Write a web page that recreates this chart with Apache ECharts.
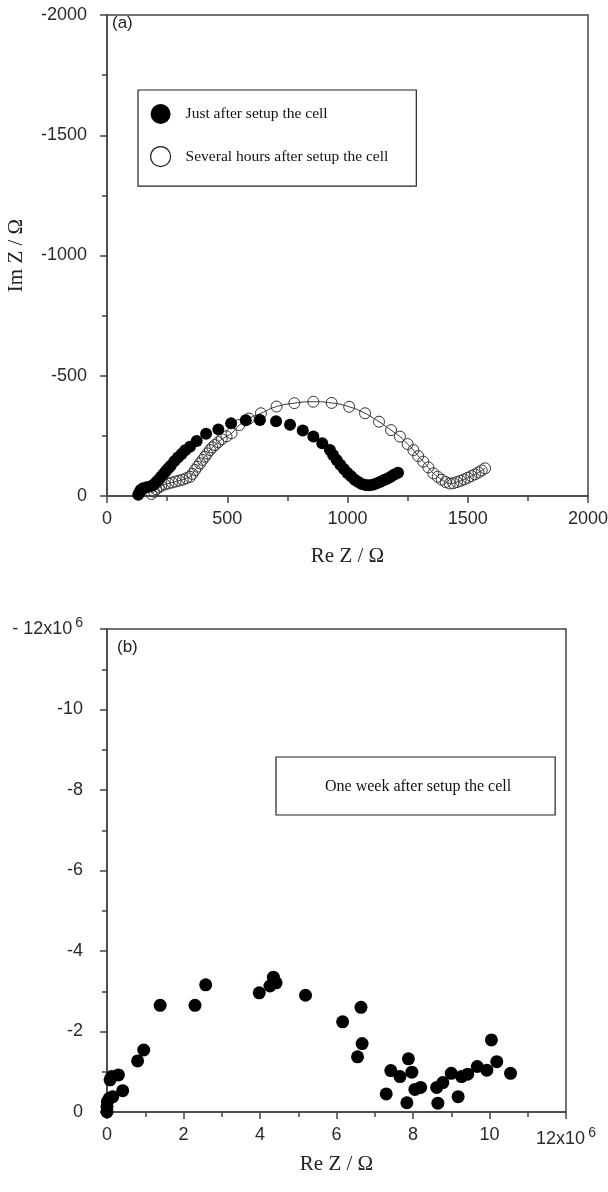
<!DOCTYPE html>
<html>
<head>
<meta charset="utf-8">
<script src="https://cdn.jsdelivr.net/npm/echarts@6/dist/echarts.min.js"></script>
<style>html,body{margin:0;padding:0;background:#fff}#c{width:608px;height:1192px}</style>
</head>
<body>
<div id="c"></div>
<script>
// Panel (a): Re Z (ohm), Im Z (ohm)
const justAfterRe = [130,135,140,150,165,180,195,205,215,225,235,245,255,265,280,295,310,325,345,373,412,463,516,577,636,703,761,814,858,895,927,940,955,970,985,1000,1015,1030,1045,1060,1075,1090,1105,1120,1135,1150,1165,1180,1195,1210];
const justAfterIm = [-5,-15,-25,-32,-36,-40,-48,-58,-68,-80,-92,-104,-115,-126,-145,-160,-175,-190,-205,-229,-259,-277,-302,-315,-316,-311,-296,-272,-247,-219,-191,-170,-150,-130,-112,-96,-82,-68,-58,-50,-46,-45,-47,-52,-58,-65,-72,-80,-89,-97];
const severalHoursRe = [185,195,205,215,225,240,255,270,285,300,315,330,345,355,366,376,387,397,407,417,428,438,449,463,477,497,518,550,590,640,705,779,858,934,1007,1073,1131,1181,1218,1250,1274,1294,1315,1336,1357,1375,1392,1408,1425,1440,1455,1470,1485,1500,1515,1530,1545,1558,1572];
const severalHoursIm = [-8,-18,-28,-36,-42,-48,-52,-56,-60,-64,-68,-74,-80,-92,-108,-122,-136,-150,-163,-177,-191,-202,-212,-224,-236,-248,-261,-295,-322,-344,-372,-386,-392,-387,-371,-344,-309,-274,-247,-216,-191,-166,-143,-119,-94,-80,-68,-58,-52,-53,-58,-63,-69,-76,-83,-90,-98,-106,-115];
// Panel (b): Re Z and Im Z in units of 10^6 ohm
const oneWeekRe = [0,0,0.01,0.06,0.15,0.08,0.12,0.30,0.41,0.80,0.96,1.39,2.30,2.58,3.98,4.26,4.35,4.42,5.19,6.16,6.64,6.67,6.55,7.30,7.42,7.66,7.88,7.97,7.84,8.05,8.20,8.65,8.62,8.78,9.00,9.18,9.27,9.43,9.68,10.05,9.93,10.19,10.55];
const oneWeekIm = [0,-0.13,-0.26,-0.34,-0.38,-0.80,-0.88,-0.92,-0.53,-1.27,-1.54,-2.65,-2.65,-3.16,-2.96,-3.13,-3.35,-3.21,-2.90,-2.24,-2.60,-1.70,-1.37,-0.45,-1.03,-0.88,-1.32,-0.99,-0.23,-0.56,-0.61,-0.22,-0.61,-0.73,-0.96,-0.38,-0.88,-0.94,-1.13,-1.79,-1.04,-1.25,-0.96];
const xTicksA = {min: 0, max: 2000, interval: 500};
const yTicksA = {min: -2000, max: 0, interval: 500};
const xTicksB = {min: 0, max: 12, interval: 2};
const yTicksB = {min: -12, max: 0, interval: 2};

const zip = (a, b) => a.map((v, i) => [v, b[i]]);
const axisColor = '#444';
const labelFont = {fontFamily: 'Liberation Sans', fontSize: 18, color: '#2a2a2a'};
const nameFont = {fontFamily: 'Liberation Serif', fontSize: 21, color: '#222'};
const supRich = {s: {fontFamily: 'Liberation Sans', fontSize: 14, color: '#2a2a2a', verticalAlign: 'top', padding: [0, 0, 12, 3]}};

function baseAxis(extra) {
  return Object.assign({
    type: 'value',
    axisLine: {show: true, onZero: false, lineStyle: {color: axisColor, width: 1.5}},
    axisTick: {show: true, inside: false, length: 7, lineStyle: {color: axisColor, width: 1.5}},
    minorTick: {show: true, splitNumber: 2, length: 5, lineStyle: {color: axisColor, width: 1.5}},
    splitLine: {show: false},
    nameLocation: 'middle',
    nameTextStyle: nameFont
  }, extra);
}

const chart = echarts.init(document.getElementById('c'), null, {renderer: 'canvas'});
chart.setOption({
  backgroundColor: '#fff',
  animation: false,
  grid: [
    {left: 107, top: 15, width: 481, height: 481, show: true, borderColor: axisColor, borderWidth: 1.5, backgroundColor: 'transparent', containLabel: false, outerBoundsMode: 'none'},
    {left: 107, top: 629, width: 459, height: 483, show: true, borderColor: axisColor, borderWidth: 1.5, backgroundColor: 'transparent', containLabel: false, outerBoundsMode: 'none'}
  ],
  xAxis: [
    baseAxis(Object.assign({gridIndex: 0, position: 'bottom', name: 'Re Z / Ω', nameGap: 50,
      axisLabel: Object.assign({margin: 14, formatter: v => String(v)}, labelFont)}, xTicksA)),
    baseAxis(Object.assign({gridIndex: 1, position: 'bottom', name: 'Re Z / Ω', nameGap: 42,
      axisLabel: Object.assign({margin: 14,
        formatter: v => v === 12 ? '12x10{s|6}' : String(v),
        rich: supRich
      }, labelFont)}, xTicksB))
  ],
  yAxis: [
    baseAxis(Object.assign({gridIndex: 0, inverse: true, name: 'Im Z / Ω', nameGap: 80,
      axisLabel: Object.assign({margin: 20, formatter: v => String(v)}, labelFont)}, yTicksA)),
    baseAxis(Object.assign({gridIndex: 1, inverse: true, name: 'Im Z / Ω', nameGap: 80,
      axisLabel: Object.assign({margin: 24,
        formatter: v => v === -12 ? '- 12x10{s|6}' : String(v),
        rich: supRich
      }, labelFont)}, yTicksB))
  ],
  legend: [
    {
      left: 138, top: 90, orient: 'vertical',
      padding: [14, 28, 19, 12], itemGap: 22, itemWidth: 20, itemHeight: 20,
      borderColor: '#222', borderWidth: 1.2,
      textStyle: {fontFamily: 'Liberation Serif', fontSize: 15.5, color: '#111', padding: [0, 0, 0, 10]},
      data: [
        {name: 'Just after setup the cell', icon: 'circle', itemStyle: {color: '#000', borderWidth: 0}},
        {name: 'Several hours after setup the cell', icon: 'circle', itemStyle: {color: '#fff', borderColor: '#222', borderWidth: 1.2}}
      ]
    },
    {
      left: 276, top: 757, orient: 'vertical',
      padding: [20, 44, 20, 44], itemWidth: 0, itemHeight: 20,
      borderColor: '#222', borderWidth: 1.2,
      textStyle: {fontFamily: 'Liberation Serif', fontSize: 16, color: '#111', padding: [0, 0, 0, 0]},
      data: [{name: 'One week after setup the cell', icon: 'none'}]
    }
  ],
  graphic: [
    {type: 'text', left: 112, top: 15, style: {text: '(a)', fontFamily: 'Liberation Sans', fontSize: 17, fill: '#222'}},
    {type: 'text', left: 117, top: 639, style: {text: '(b)', fontFamily: 'Liberation Sans', fontSize: 17, fill: '#222'}}
  ],
  series: [
    {
      name: 'Several hours after setup the cell', type: 'line', xAxisIndex: 0, yAxisIndex: 0,
      data: zip(severalHoursRe, severalHoursIm), smooth: true,
      lineStyle: {color: '#333', width: 1},
      symbol: 'circle', symbolSize: 11,
      itemStyle: {color: 'rgba(255,255,255,0)', borderColor: '#333', borderWidth: 1},
      z: 2
    },
    {
      name: 'Just after setup the cell', type: 'scatter', xAxisIndex: 0, yAxisIndex: 0,
      data: zip(justAfterRe, justAfterIm), symbol: 'circle', symbolSize: 12,
      itemStyle: {color: '#000', opacity: 1}, z: 3
    },
    {
      name: 'One week after setup the cell', type: 'scatter', xAxisIndex: 1, yAxisIndex: 1,
      data: zip(oneWeekRe, oneWeekIm), symbol: 'circle', symbolSize: 13,
      itemStyle: {color: '#000', opacity: 1}
    }
  ]
});
</script>
</body>
</html>
